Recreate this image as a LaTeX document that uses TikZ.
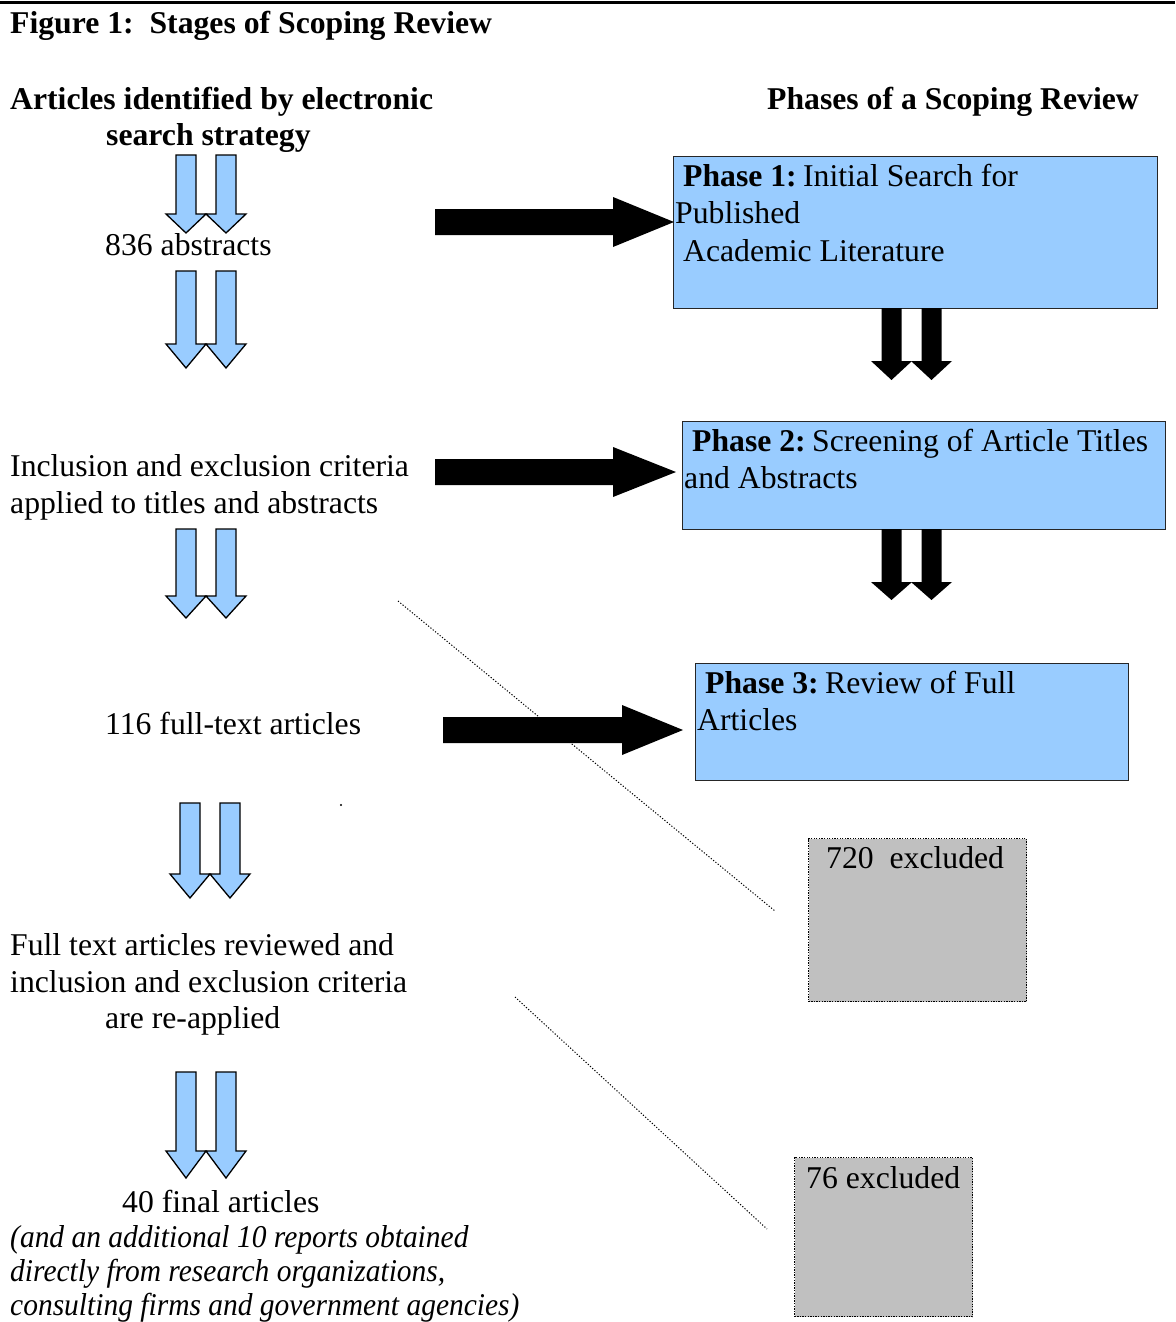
\documentclass[tikz,border=0pt]{standalone}
\usepackage{fontspec}
\setmainfont{Liberation Serif}
\definecolor{phaseblue}{HTML}{99CCFF}
\definecolor{exgray}{HTML}{C0C0C0}
% blue double down arrow: left centre x, top y, head start y, tip y
\newcommand\bluepair[4]{%
  \foreach \cx in {#1,#1+40}{%
    \filldraw[bluearrow] (\cx-10,#2) -- (\cx+10,#2) -- (\cx+10,#3) -- (\cx+20,#3)
      -- (\cx,#4) -- (\cx-20,#3) -- (\cx-10,#3) -- cycle;}}
% black double down arrow
\newcommand\blackpair[4]{%
  \foreach \cx in {#1,#1+40}{%
    \fill[blackarrow] (\cx-10,#2) -- (\cx+10,#2) -- (\cx+10,#3) -- (\cx+20.5,#3)
      -- (\cx,#4) -- (\cx-20.5,#3) -- (\cx-10,#3) -- cycle;}}
% black right block arrow: start x, centre y, head base x, tip x
\newcommand\blackright[4]{%
  \fill[blackarrow] (#1,#2-13) -- (#3,#2-13) -- (#3,#2-25) -- (#4,#2)
    -- (#3,#2+25) -- (#3,#2+13) -- (#1,#2+13) -- cycle;}
\newcommand\narrowit[1]{\scalebox{0.93}[1]{\itshape #1}}
\begin{document}
\begin{tikzpicture}[x=1pt,y=-1pt,
  font=\fontsize{31.7}{37}\selectfont,
  txt/.style={anchor=base west, inner sep=0pt},
  phasebox/.style={draw=black!85, line width=1.2pt, fill=phaseblue, anchor=north west, inner sep=0pt},
  exbox/.style={draw=black, dash pattern=on 1.3pt off 1.3pt, line width=1.3pt, fill=exgray, anchor=north west, inner sep=0pt},
  bluearrow/.style={fill=phaseblue, draw=black, line width=1.3pt, line join=miter},
  blackarrow/.style={fill=black},
  guide/.style={dash pattern=on 1.2pt off 1.8pt, line width=1pt}]
\useasboundingbox (0,0) rectangle (1175,1322);
\fill[white] (0,0) rectangle (1175,1322);
% top rule
\draw[line width=3pt] (0,2.5) -- (1175,2.5);

% headings
\node[txt] (title) at (10,34) {\textbf{Figure 1:\ \ Stages of Scoping Review}};
\node[txt] (lh1) at (10,109) {\textbf{Articles identified by electronic}};
\node[txt] (lh2) at (106,145) {\textbf{search strategy}};
\node[txt] (rh) at (767,109) {\textbf{Phases of a Scoping Review}};

% phase boxes
\node[phasebox, minimum width=484pt, minimum height=152pt] (p1) at (673,156) {};
\node[phasebox, minimum width=483pt, minimum height=108pt] (p2) at (682,421) {};
\node[phasebox, minimum width=433pt, minimum height=117pt] (p3) at (695,663) {};
\node[txt] (p1a) at (683,186) {\textbf{Phase 1:}\hspace{0.2em}Initial Search for};
\node[txt] (p1b) at (675,223) {Published};
\node[txt] (p1c) at (683,261) {Academic Literature};
\node[txt] (p2a) at (692,451) {\textbf{Phase 2:}\hspace{0.2em}Screening of Article Titles};
\node[txt] (p2b) at (684,488) {and Abstracts};
\node[txt] (p3a) at (705,693) {\textbf{Phase 3:}\hspace{0.2em}Review of Full};
\node[txt] (p3b) at (697,730) {Articles};

% excluded boxes
\node[exbox, minimum width=218pt, minimum height=163pt] (ex1) at (808,838) {};
\node[txt] (ex1t) at (826,868) {720\ \ excluded};
\node[exbox, minimum width=178pt, minimum height=159pt] (ex2) at (794,1157) {};
\node[txt] (ex2t) at (806,1188) {76 excluded};

% left column texts
\node[txt] (s1) at (105,255) {836 abstracts};
\node[txt] (s2a) at (10,476) {Inclusion and exclusion criteria};
\node[txt] (s2b) at (10,513) {applied to titles and abstracts};
\node[txt] (s3) at (105,734) {116 full-text articles};
\node[txt] (s4a) at (10,955) {Full text articles reviewed and};
\node[txt] (s4b) at (10,992) {inclusion and exclusion criteria};
\node[txt] (s4c) at (105,1028) {are re-applied};
\node[txt] (s5) at (122,1212) {40 final articles};
\node[txt] (s6a) at (10,1247) {\narrowit{(and an additional 10 reports obtained}};
\node[txt] (s6b) at (10,1281) {\narrowit{directly from research organizations,}};
\node[txt] (s6c) at (10,1315) {\narrowit{consulting firms and government agencies)}};

% stray dot
\fill (341,805) circle (1.1pt);

% dotted guide lines
\coordinate (g1s) at (398,601);
\coordinate (g1e) at (775,911);
\coordinate (g2s) at (515,997);
\coordinate (g2e) at (767,1229);
\draw[guide] (g1s) -- (g1e);
\draw[guide] (g2s) -- (g2e);

% blue double arrows (left column)
\bluepair{186}{155}{214}{233}
\bluepair{186}{271}{344}{368}
\bluepair{186}{529}{596}{618}
\bluepair{190}{803}{874}{898}
\bluepair{186}{1072}{1151}{1178}

% black right arrows
\blackright{435}{222}{613}{674}
\blackright{435}{472}{613}{676}
\blackright{443}{730}{622}{683}

% black double down arrows
\blackpair{891.5}{308}{361}{380}
\blackpair{891.5}{529}{582}{600}
\end{tikzpicture}
\end{document}
